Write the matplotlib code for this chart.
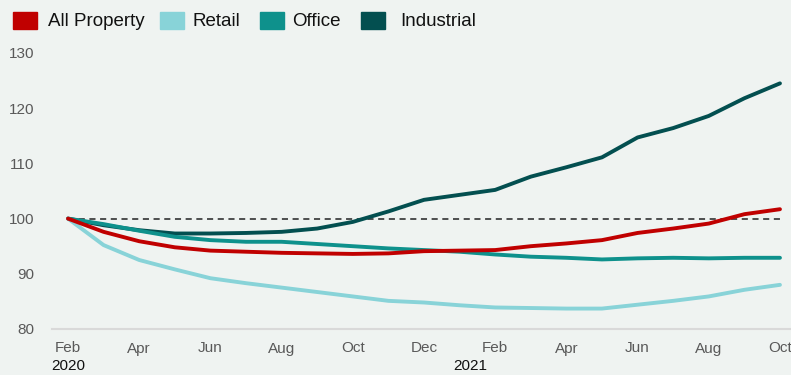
import matplotlib
matplotlib.use("Agg")
import matplotlib.pyplot as plt
import matplotlib.transforms as mtransforms
from matplotlib.patches import Rectangle
import numpy as np

plt.rcParams['font.family'] = ['Liberation Sans', 'DejaVu Sans']

# monthly index, Feb 2020 = 100
months = ["Feb", "Mar", "Apr", "May", "Jun", "Jul", "Aug", "Sep", "Oct", "Nov",
          "Dec", "Jan", "Feb", "Mar", "Apr", "May", "Jun", "Jul", "Aug", "Sep", "Oct"]
all_property = [100, 97.6, 95.9, 94.8, 94.2, 94.0, 93.8, 93.7, 93.6, 93.7,
                94.1, 94.2, 94.3, 95.0, 95.5, 96.1, 97.4, 98.2, 99.1, 100.8, 101.7]
retail = [100, 95.2, 92.5, 90.8, 89.2, 88.3, 87.5, 86.7, 85.9, 85.1,
          84.8, 84.3, 83.9, 83.8, 83.7, 83.7, 84.4, 85.1, 85.9, 87.1, 88.0]
office = [100, 99.0, 97.8, 96.7, 96.1, 95.8, 95.8, 95.4, 95.0, 94.6,
          94.3, 94.0, 93.5, 93.1, 92.9, 92.6, 92.8, 92.9, 92.8, 92.9, 92.9]
industrial = [100, 98.8, 97.9, 97.3, 97.3, 97.4, 97.6, 98.2, 99.4, 101.3,
              103.4, 104.3, 105.2, 107.6, 109.3, 111.1, 114.7, 116.4, 118.6, 121.8, 124.5]
yticks = [80, 90, 100, 110, 120, 130]
years = [("2020", 0), ("2021", 11.3)]

series = [("All Property", all_property, "#c00000"),
          ("Retail", retail, "#88d3d8"),
          ("Office", office, "#0e918c"),
          ("Industrial", industrial, "#034f50")]

bg = "#eff3f1"
fig = plt.figure(figsize=(7.91, 3.75), dpi=100, facecolor=bg)
ax = fig.add_axes([52/791, 46/375, 739/791, 276/375], facecolor=bg)

x = np.arange(len(months))
ax.plot([x[0], x[-1]], [100, 100], color="#222222", lw=1.1, ls=(0, (4, 3)), zorder=1)
for name, vals, col in reversed(series):
    ax.plot(x, vals, color=col, lw=2.8, solid_capstyle="round", zorder=2)

ax.set_xlim(-0.45, 20.31)
ax.set_ylim(80, 130)
ax.set_yticks(yticks)
ax.set_xticks(x[::2])
ax.set_xticklabels(months[::2])
for s in ["top", "right", "left"]:
    ax.spines[s].set_visible(False)
ax.spines["bottom"].set_color("#d9d9d9")
ax.spines["bottom"].set_linewidth(1.5)
ax.tick_params(axis="both", length=0, labelsize=11, colors="#595959")
ax.tick_params(axis="y", pad=13)
ax.tick_params(axis="x", pad=9)

# year labels under the first month of each year
trans = mtransforms.blended_transform_factory(ax.transData, fig.transFigure)
for label, xpos in years:
    ax.text(xpos, 1.5/375, label, transform=trans, ha="center", va="bottom",
            fontsize=11, color="#111111")

# legend along the top
leg_x = [13, 160, 260, 361]
txt_x = [48, 192, 292, 400]
for (name, vals, col), sx, tx in zip(series, leg_x, txt_x):
    fig.patches.append(Rectangle((sx/791, 1 - 29/375), 24/791, 17/375,
                                 transform=fig.transFigure, color=col))
    fig.text(tx/791, 1 - 22/375, name, fontsize=13.5, color="#111111", va="center")

fig.savefig("out.png", dpi=100, facecolor=bg)
